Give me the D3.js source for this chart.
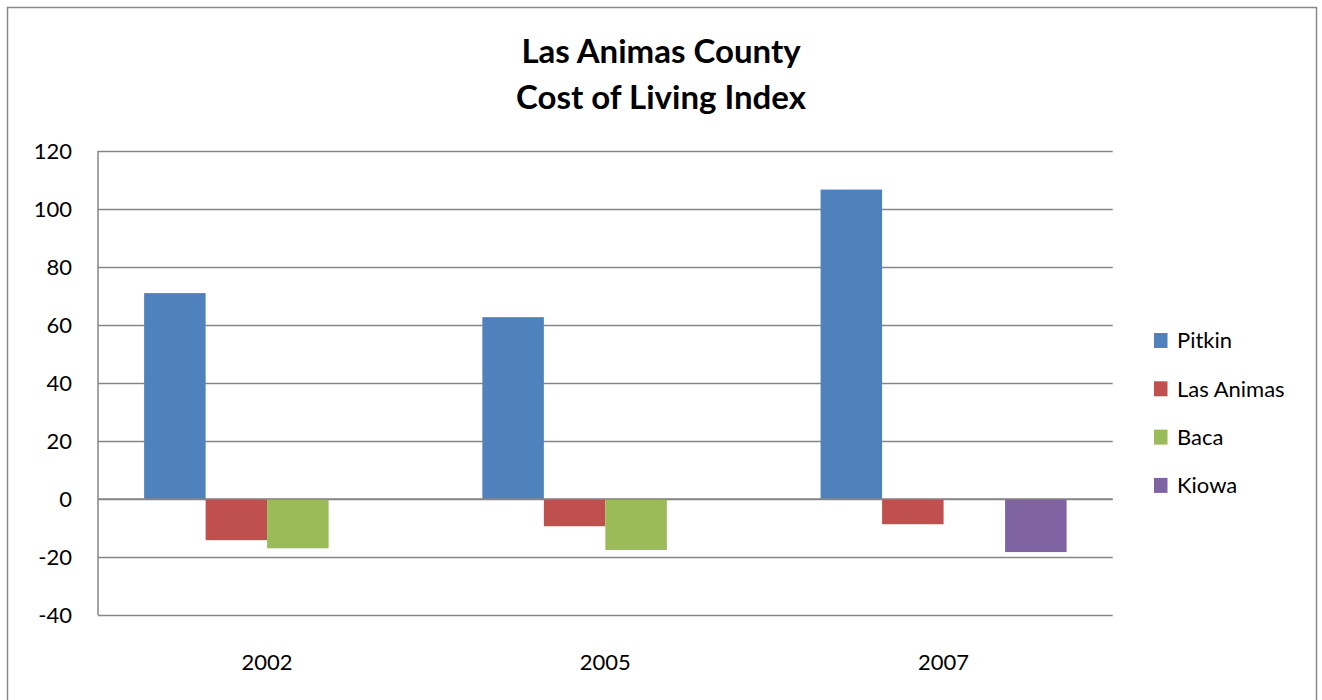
<!DOCTYPE html>
<html>
<head>
<meta charset="utf-8">
<script src="https://cdn.jsdelivr.net/npm/d3@7"></script>
<style>
  body { margin: 0; background: #fff; }
  svg text { font-family: Lato, "Open Sans", sans-serif; fill: #000; }
</style>
</head>
<body>
<div id="chart"></div>
<script>
// chart data
const years = ["2002", "2005", "2007"];
const seriesNames = ["Pitkin", "Las Animas", "Baca", "Kiowa"];
const pitkin = [71, 62.7, 106.7];
const lasAnimas = [-14.2, -9.4, -8.7];
const baca = [-17, -17.6, null];
const kiowa = [null, null, -18.3];
const yTicks = [-40, -20, 0, 20, 40, 60, 80, 100, 120];
const colors = ["#4F81BD", "#C0504D", "#9BBB59", "#8064A2"];

const seriesValues = [pitkin, lasAnimas, baca, kiowa];

const width = 1322, height = 700;
const plot = { left: 98, right: 1112.7, top: 151, bottom: 615 };

let svg = d3.select("#chart")
            .append("svg")
                .attr("width", width)
                .attr("height", height);

// outer frame (bottom edge falls outside the picture)
svg.append("rect")
    .attr("x", 7.5)
    .attr("y", 7.5)
    .attr("width", 1309)
    .attr("height", 720)
    .attr("fill", "none")
    .attr("stroke", "#888")
    .attr("stroke-width", 1.5);

// title
let title = svg.append("text")
    .attr("text-anchor", "middle")
    .style("font-weight", "bold")
    .style("font-size", "33px")
    .attr("textLength", null);
title.append("tspan").attr("x", 661).attr("y", 63).text("Las Animas County");
title.append("tspan").attr("x", 661).attr("y", 109).text("Cost of Living Index");

let x = d3.scaleBand().domain(years).range([plot.left, plot.right]).padding(0);
let xInner = d3.scaleBand().domain(seriesNames).range([0, x.bandwidth()])
               .paddingInner(0).paddingOuter(0.75);
let y = d3.scaleLinear().domain([-40, 120]).range([plot.bottom, plot.top]);

// gridlines + y labels (plain hyphen for negatives, like the original)
let yAxis = svg.append("g")
    .attr("transform", "translate(" + plot.left + ",0)")
    .call(d3.axisLeft(y).tickValues(yTicks)
            .tickFormat(d => String(d))
            .tickSize(-(plot.right - plot.left)).tickPadding(26));
yAxis.select(".domain").remove();
yAxis.selectAll(".tick line").attr("stroke", "#868686").attr("stroke-width", 1.5);
yAxis.selectAll(".tick text").style("font-size", "22px").attr("dy", "0.35em");

// left axis line
svg.append("line")
    .attr("x1", plot.left).attr("x2", plot.left)
    .attr("y1", plot.top).attr("y2", plot.bottom)
    .attr("stroke", "#868686").attr("stroke-width", 1.5);

// bars
seriesNames.forEach((name, si) => {
    let data = years.map((yr, i) => ({ year: yr, value: seriesValues[si][i] }))
                    .filter(d => d.value !== null);
    svg.append("g").selectAll("rect").data(data).enter()
        .append("rect")
            .attr("x", d => x(d.year) + xInner(name))
            .attr("width", xInner.bandwidth())
            .attr("y", d => y(Math.max(0, d.value)))
            .attr("height", d => Math.abs(y(d.value) - y(0)))
            .attr("fill", colors[si]);
});

// zero line on top
svg.append("line")
    .attr("x1", plot.left).attr("x2", plot.right)
    .attr("y1", y(0)).attr("y2", y(0))
    .attr("stroke", "#868686").attr("stroke-width", 1.5);

// category labels
svg.append("g").selectAll("text").data(years).enter()
    .append("text")
        .attr("x", d => x(d) + x.bandwidth() / 2)
        .attr("y", 662)
        .attr("dy", "0.35em")
        .attr("text-anchor", "middle")
        .style("font-size", "22px")
        .text(d => d);

// legend
let legend = svg.append("g").selectAll("g").data(seriesNames).enter()
    .append("g")
        .attr("transform", (d, i) => "translate(1154," + (340.5 + i * 48.3) + ")");
legend.append("rect")
    .attr("x", 0).attr("y", -7.5)
    .attr("width", 13.5).attr("height", 15)
    .attr("fill", (d, i) => colors[i]);
legend.append("text")
    .attr("x", 23)
    .attr("dy", "0.35em")
    .style("font-size", "22px")
    .text(d => d);
</script>
</body>
</html>
